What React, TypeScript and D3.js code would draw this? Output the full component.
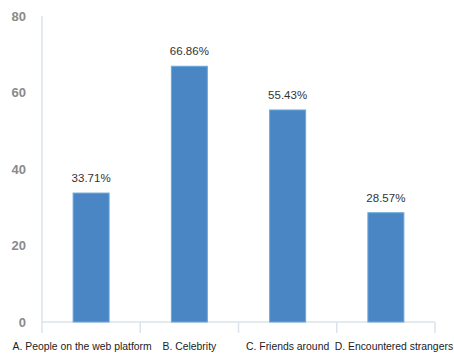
import React from "react";
import * as d3 from "d3";

const categories = [
  "A. People on the web platform",
  "B. Celebrity",
  "C. Friends around",
  "D. Encountered strangers",
];
const values = [33.71, 66.86, 55.43, 28.57];
const yTicks = [0, 20, 40, 60, 80];
const labelShift = [-9, 0, 0, 8];

export default function App() {
  const width = 454;
  const height = 358;
  const left = 42, right = 435, top = 16, bottom = 322;
  const x = d3.scaleBand<string>().domain(categories).range([left, right]).paddingInner(0).paddingOuter(0);
  const y = d3.scaleLinear().domain([0, 80]).range([bottom, top]);
  const barW = 36;
  const font = "Liberation Sans, Arial, sans-serif";
  const boundaries = [left, ...categories.map((c) => (x(c) as number) + x.bandwidth())];
  return (
    <svg width={width} height={height} style={{ position: "absolute", left: 0, top: 0 }}>
      <rect width={width} height={height} fill="#fff" />
      <line x1={left} x2={left} y1={top} y2={bottom} stroke="#dde3ea" strokeWidth={1.5} />
      <line x1={left} x2={right} y1={bottom} y2={bottom} stroke="#dde3ea" strokeWidth={1.5} />
      {boundaries.map((b, i) => (
        <line key={i} x1={b} x2={b} y1={bottom} y2={bottom + 11} stroke="#dde3ea" strokeWidth={1.5} />
      ))}
      {yTicks.map((t) => (
        <text key={t} x={26} y={y(t)} dy="0.35em" textAnchor="end" fontFamily={font} fontSize={13} fill="#8a8a8a" fontWeight="bold">
          {t}
        </text>
      ))}
      {categories.map((c, i) => {
        const cx = (x(c) as number) + x.bandwidth() / 2;
        return (
          <g key={c}>
            <rect x={cx - barW / 2} y={y(values[i])} width={barW} height={bottom - y(values[i])} fill="#4a86c4" stroke="#6aa8dc" strokeWidth={1} />
            <text x={cx} y={y(values[i]) - 11} textAnchor="middle" fontFamily={font} fontSize={11.5} fill="#333" >
              {values[i].toFixed(2)}%
            </text>
            <text x={cx + labelShift[i]} y={346} dy="0.35em" textAnchor="middle" fontFamily={font} fontSize={10.4} fill="#222">
              {c}
            </text>
          </g>
        );
      })}
    </svg>
  );
}
